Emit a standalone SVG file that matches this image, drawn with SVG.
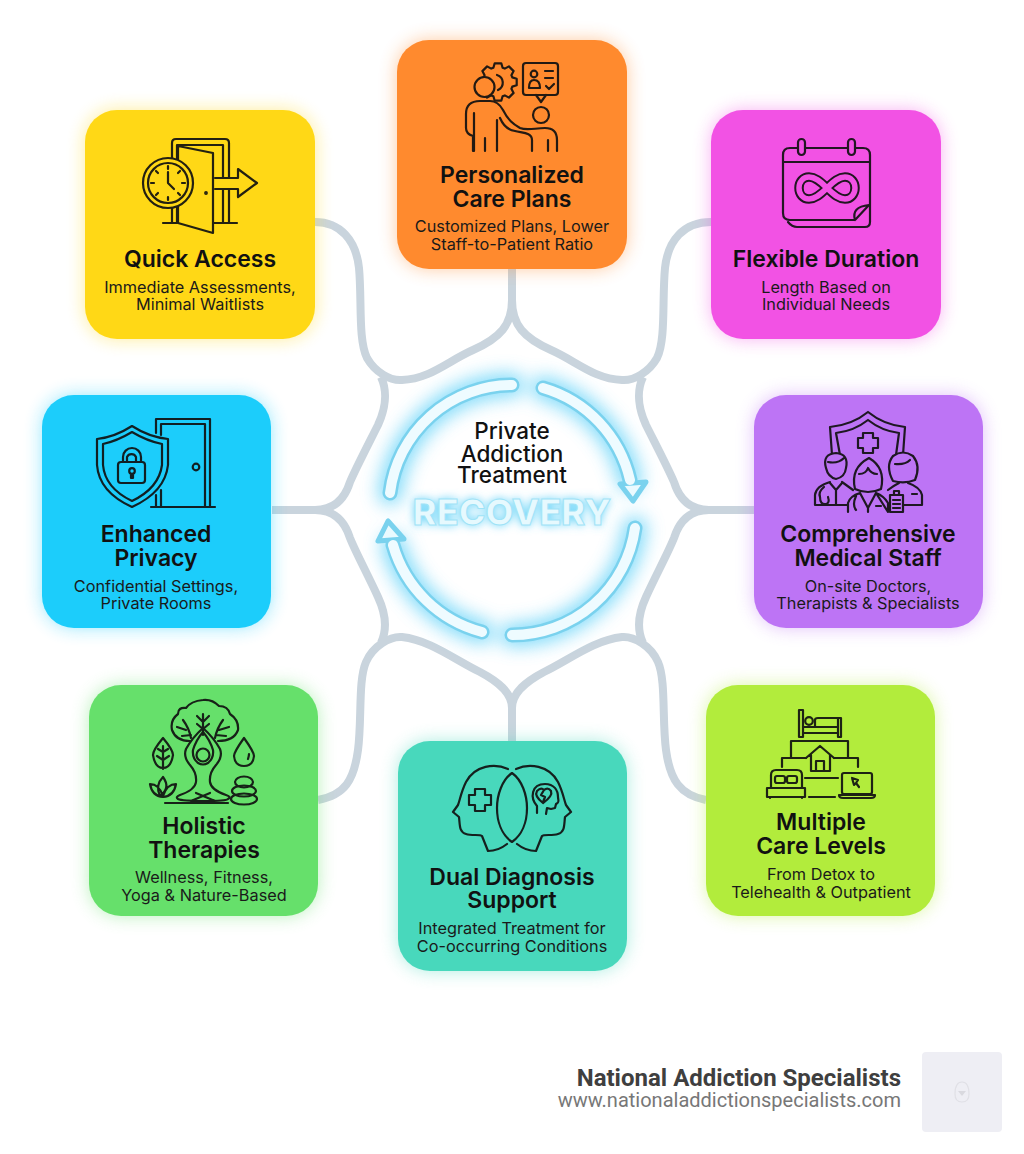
<svg xmlns="http://www.w3.org/2000/svg" width="1024" height="1154" viewBox="0 0 1024 1154">
<style>
text{font-family:"Inter","Liberation Sans",sans-serif;text-anchor:middle;fill:#111}
.t{font-size:23px;font-weight:600}
.s{font-size:16.3px;font-weight:400;fill:#1a1a1a}
.i{fill:none;stroke:#111;stroke-width:2.2;stroke-linecap:round;stroke-linejoin:round;opacity:.92}
.c{fill:none;stroke:#c9d4dd;stroke-width:8;stroke-linecap:butt;stroke-linejoin:round}
.g{filter:url(#glow);opacity:.45}
.ring{fill:none;stroke-linecap:round;stroke-linejoin:round}
.f{font-family:"Roboto","Liberation Sans",sans-serif;text-anchor:end}
</style>
<defs>
<filter id="glow" x="-30%" y="-30%" width="160%" height="160%"><feGaussianBlur stdDeviation="9"/></filter>
<filter id="rg" x="-30%" y="-30%" width="160%" height="160%"><feGaussianBlur stdDeviation="9"/></filter>
<filter id="tg" x="-30%" y="-80%" width="160%" height="260%"><feGaussianBlur stdDeviation="5"/></filter>
<path id="arcs" d="M390 493A123 123 0 0 1 512 385M543 388A125 125 0 0 1 630 480M635 528A124 124 0 0 1 512 635M482 632A126 126 0 0 1 393 545"/>
</defs>
<rect width="1024" height="1154" fill="#fff"/>
<g id="connectors" class="c">
<path d="M512 268V300C512 325 500 338 473 350C448 361 430 379 402 380C390 381 375 372 367 358C358 340 362 300 359 268C356 240 340 222 315 222"/>
<path d="M512 300C512 325 524 338 551 350C576 361 594 379 622 380C634 381 649 372 657 358C666 340 662 300 665 268C668 240 684 222 711 222"/>
<path d="M381 377C388 392 385 410 378 425C368 445 356 468 350 482C345 498 335 510 315 510H272"/>
<path d="M643 377C636 392 639 410 646 425C656 445 668 468 674 482C679 498 689 510 709 510H754"/>
<path d="M315 510C335 510 345 522 350 538C356 553 368 575 378 597C385 612 388 628 381 643"/>
<path d="M709 510C689 510 679 522 674 538C668 553 656 575 646 597C639 612 636 628 643 643"/>
<path d="M512 741V708C512 692 497 681 480 672C455 660 430 640 402 637C390 636 373 646 366 662C358 680 362 720 358 750C354 780 345 795 318 800"/>
<path d="M512 708C512 692 527 681 544 672C569 660 594 640 622 637C634 636 651 646 658 662C666 680 662 720 666 750C670 780 680 795 706 800"/>
</g>
<g id="card-quick-access">
<rect class="g" x="85" y="110" width="230" height="229" rx="32" fill="#ffd816"/>
<rect x="85" y="110" width="230" height="229" rx="32" fill="#ffd816"/>
<g class="i">
<path d="M172 223V143Q172 139 176 139H225Q229 139 229 143V177M177 223V145H223V177M229 190V223M223 190V223M163 223H177M213 223H237"/>
<path d="M178 146L213 153V233L178 223Z" fill="#ffd816"/>
<path d="M215 178H238V169L257 183L238 197V189H215"/>
<circle cx="168" cy="183" r="25" fill="#ffd816"/><circle cx="168" cy="183" r="20"/>
<path d="M168 172V183L174 189M168 166V169M168 197V200M151 183H154M182 183H185M156 171L158 173M180 171L178 173M156 195L158 193M180 195L178 193"/>
<circle cx="206" cy="193" r=".8"/>
</g>
<text class="t" x="200" y="267">Quick Access</text>
<text class="s" x="200" y="293">Immediate Assessments,</text>
<text class="s" x="200" y="310">Minimal Waitlists</text>
</g>
<g id="card-personalized">
<rect class="g" x="397" y="40" width="230" height="229" rx="32" fill="#ff8a2e"/>
<rect x="397" y="40" width="230" height="229" rx="32" fill="#ff8a2e"/>
<g class="i">
<path d="M512.3 77.4L516.7 78.7V85.3L512.3 86.6L511.4 88.8L513.6 92.9L508.9 97.6L504.8 95.4L502.6 96.3L501.3 100.7H494.7L493.4 96.3L491.2 95.4L487.1 97.6L482.4 92.9L484.6 88.8L483.7 86.6L479.3 85.3V78.7L483.7 77.4L484.6 75.2L482.4 71.1L487.1 66.4L491.2 68.6L493.4 67.7L494.7 63.3H501.3L502.6 67.7L504.8 68.6L508.9 66.4L513.6 71.1L511.4 75.2Z"/>
<path d="M497 75A8 8 0 0 1 498 90"/>
<circle cx="484.500" cy="87" r="10" fill="#ff8a2e"/>
<path d="M473 151V136Q466 134 466 128V114Q466 101 480 101H490Q498 101 503 110C508 120 513 124 520 128C527 131 535 128 545 128Q557 128 557 140V151M500 118C503 125 508 130 515 131C522 133 532 132 532 140V151M474 113V151M485 138V151M497 120V151M548 140V151" fill="#ff8a2e"/>
<circle cx="541" cy="115" r="8"/>
<rect x="523" y="63" width="35" height="32" rx="3"/>
<path d="M536 95L541 102L546 95M529 88Q529 80 534 80Q540 80 540 88ZM545 71H553M545 78H553M546 86L549 89L554 84"/>
<circle cx="534" cy="74" r="3.3"/>
</g>
<text class="t" x="512" y="183">Personalized</text>
<text class="t" x="512" y="207">Care Plans</text>
<text class="s" x="512" y="232">Customized Plans, Lower</text>
<text class="s" x="512" y="250">Staff-to-Patient Ratio</text>
</g>
<g id="card-flexible">
<rect class="g" x="711" y="110" width="230" height="229" rx="32" fill="#f252e4"/>
<rect x="711" y="110" width="230" height="229" rx="32" fill="#f252e4"/>
<g class="i">
<path d="M855 220H790Q783 220 783 213V155Q783 148 790 148H863Q870 148 870 155V222Q870 227 865 227H797Q792 227 788 222M783 162H870M869 205L855 220Q851 207 869 205Z"/>
<rect x="798" y="139" width="7" height="16" rx="3.500" fill="#f252e4"/><rect x="848" y="139" width="7" height="16" rx="3.500" fill="#f252e4"/>
<path d="M827 188C820 181 815 177 809 177C803 177 799 182 799 188C799 194 803 199 809 199C815 199 820 195 827 188C834 181 839 177 845 177C851 177 855 182 855 188C855 194 851 199 845 199C839 199 834 195 827 188Z" stroke-width="9.500"/>
<path d="M827 188C820 181 815 177 809 177C803 177 799 182 799 188C799 194 803 199 809 199C815 199 820 195 827 188C834 181 839 177 845 177C851 177 855 182 855 188C855 194 851 199 845 199C839 199 834 195 827 188Z" stroke="#f252e4" stroke-width="5.500"/>
</g>
<text class="t" x="826" y="267">Flexible Duration</text>
<text class="s" x="826" y="293">Length Based on</text>
<text class="s" x="826" y="310">Individual Needs</text>
</g>
<g id="card-privacy">
<rect class="g" x="42" y="395" width="229" height="233" rx="32" fill="#1ccdfb"/>
<rect x="42" y="395" width="229" height="233" rx="32" fill="#1ccdfb"/>
<g class="i">
<path d="M156 433V419H210V507M161 435V424H205V507M156 495V507M161 490V507M151 507H215"/>
<circle cx="196" cy="467" r="3.300"/>
<path d="M132 426Q115 437 97 439V465Q99 492 132 507Q165 492 168 465V439Q149 437 132 426Z"/>
<path d="M132 432Q117 441 103 444V465Q105 488 132 501Q159 488 162 465V444Q147 441 132 432Z"/>
<rect x="118" y="462" width="27" height="21" rx="3"/>
<path d="M123 462V457A9 9 0 0 1 141 457V462M127 462V457A5 5 0 0 1 136 457V462M131 475V478H133V475"/>
<circle cx="132" cy="471" r="2.800"/>
</g>
<text class="t" x="156" y="542">Enhanced</text>
<text class="t" x="156" y="566">Privacy</text>
<text class="s" x="156" y="592">Confidential Settings,</text>
<text class="s" x="156" y="609">Private Rooms</text>
</g>
<g id="card-medical">
<rect class="g" x="754" y="395" width="229" height="233" rx="32" fill="#bd74f5"/>
<rect x="754" y="395" width="229" height="233" rx="32" fill="#bd74f5"/>
<g class="i">
<path d="M832 455L830 427Q852 425 868 412Q884 425 905 427L903 455M840 455L836 433Q854 431 868 420Q882 431 899 433L896 455"/>
<path d="M863 433H873V438H878V448H873V453H863V448H858V438H863Z"/>
<path d="M826 468Q822 454 836 453Q849 454 846 468Q845 477 836 479Q828 477 826 468ZM828 462Q838 464 844 458" fill="#bd74f5"/>
<path d="M815 505V495Q816 486 830 482M842 482L853 490M815 505H848M830 483L836 490L842 483M836 490V505M824 487Q818 492 820 497M820 497Q820 505 826 504Q830 503 828 497"/>
<path d="M855 489Q850 468 869 458Q886 468 881 489Q875 492 868 492Q861 492 855 489ZM859 474Q866 474 868 468Q871 474 877 474" fill="#bd74f5"/>
<path d="M848 512V503Q850 496 860 493M876 493Q884 496 888 503V512ZM860 493L868 508L876 493M868 508V512M856 496Q852 505 856 510M876 506H881" fill="#bd74f5"/>
<path d="M893 481Q885 466 893 456Q903 449 913 456Q921 466 915 480Q905 484 893 481ZM895 464Q905 465 910 460" fill="#bd74f5"/>
<path d="M888 490Q893 486 899 483M908 483Q920 487 922 495V505H904M912 494H917"/>
<rect x="890" y="495" width="13" height="17" fill="#bd74f5"/><path d="M893 500H900M893 504H900M893 508H900M894 495V491H899V495"/>
</g>
<text class="t" x="868" y="542">Comprehensive</text>
<text class="t" x="868" y="566">Medical Staff</text>
<text class="s" x="868" y="592">On-site Doctors,</text>
<text class="s" x="868" y="609">Therapists &amp; Specialists</text>
</g>
<g id="card-holistic">
<rect class="g" x="89" y="685" width="229" height="231" rx="32" fill="#66e06b"/>
<rect x="89" y="685" width="229" height="231" rx="32" fill="#66e06b"/>
<g class="i">
<path d="M190 741Q176 741 172 730Q170 720 178 714Q178 707 186 708Q191 701 203 700Q212 699 219 706Q228 706 230 714Q239 720 238 730Q234 741 218 741"/>
<path d="M203 735V714M203 722L197 716M203 722L209 716M203 729L197 724M203 729L209 724M191 738Q189 728 183 720M186 730L177 727M191 735L182 736M215 738Q217 728 223 720M219 730L229 727M216 735L226 736"/>
<path d="M203 728Q192 738 186 749Q183 757 190 765Q197 773 196 782Q195 790 180 795Q175 797 178 799Q182 801 205 801Q226 801 228 799Q232 797 226 795Q211 790 210 782Q209 773 216 765Q223 757 220 749Q214 738 203 728ZM196 793L215 801M210 793L191 801"/>
<path d="M203 732Q196 740 193 750Q192 758 198 763Q203 766 208 763Q214 758 213 750Q210 740 203 732Z"/>
<circle cx="203" cy="755" r="6.500"/>
<path d="M163 738Q153 750 153 755Q155 768 163 768Q171 768 173 755Q173 750 163 738ZM163 746V769M163 752L158 749M163 752L168 749M163 760L157 756M163 760L169 756"/>
<path d="M244 738Q234 752 234 756Q235 766 244 766Q253 766 254 756Q254 752 244 738ZM248 759Q249 756 249 754"/>
<path d="M163 777Q155 785 160 796Q171 788 163 777ZM150 784Q152 796 163 797Q174 796 176 784Q167 784 163 796Q159 784 150 784Z"/>
<ellipse cx="244" cy="782" rx="9" ry="5.500"/><ellipse cx="244" cy="791" rx="12" ry="5.500"/><ellipse cx="244" cy="799" rx="13" ry="5.500"/>
<path d="M165 803H228"/>
</g>
<text class="t" x="204" y="834">Holistic</text>
<text class="t" x="204" y="858">Therapies</text>
<text class="s" x="204" y="883">Wellness, Fitness,</text>
<text class="s" x="204" y="901">Yoga &amp; Nature-Based</text>
</g>
<g id="card-dual">
<rect class="g" x="398" y="741" width="229" height="230" rx="32" fill="#48d8bc"/>
<rect x="398" y="741" width="229" height="230" rx="32" fill="#48d8bc"/>
<g class="i">
<path d="M508 769C495 763 475 765 466 782C461 792 460 800 458 805L453 812L459 817C460 825 459 832 466 834C472 836 480 834 482 836L488 851C495 851 502 848 507 844"/>
<path d="M516 769C529 763 549 765 558 782C563 792 564 800 566 805L571 812L565 817C564 825 565 832 558 834C552 836 544 834 542 836L536 851C529 851 522 848 517 844"/>
<path d="M512 773C502 780 497 795 497 808C497 822 502 835 512 842C522 835 527 822 527 808C527 795 522 780 512 773Z"/>
<path d="M475 789H485V795H491V805H485V811H475V805H469V795H475Z"/>
<path d="M537 813L537 806C530 798 531 784 545 784C554 784 558 790 558 797C558 800 560 802 556 804L555 808L551 809L547 808L546 814"/>
<path d="M543 803Q534 796 537 791Q541 787 544 790Q548 787 551 791Q553 796 543 803ZM544 790L541 795L545 797L543 802"/>
</g>
<text class="t" x="512" y="885">Dual Diagnosis</text>
<text class="t" x="512" y="908">Support</text>
<text class="s" x="512" y="934">Integrated Treatment for</text>
<text class="s" x="512" y="952">Co-occurring Conditions</text>
</g>
<g id="card-levels">
<rect class="g" x="706" y="685" width="229" height="231" rx="32" fill="#b2ec3c"/>
<rect x="706" y="685" width="229" height="231" rx="32" fill="#b2ec3c"/>
<g class="i">
<rect x="799" y="710" width="4" height="27"/><rect x="838" y="718" width="3" height="19"/>
<path d="M803 733H838M803 727H838M815 727V720Q815 718 818 718H838"/>
<circle cx="809" cy="721" r="3.800"/>
<path d="M791 758V741H848V758M782 767V758H806M834 758H858V767"/>
<path d="M806 758L820 746L834 758M811 755V771H830V755M816 771V761H824V771"/>
<path d="M805 778H838M809 797H835"/>
<path d="M771 788V775Q771 770 776 770H797Q802 770 802 775V788M767 788H805V797H767ZM770 797V798M802 797V798"/>
<rect x="775" y="776" width="10" height="7" rx="2"/><rect x="787" y="776" width="10" height="7" rx="2"/>
<rect x="842" y="773" width="30" height="21" rx="2"/>
<path d="M839 795H875Q875 798 871 798H843Q839 798 839 795ZM852 778L854 785L856 783L859 787M852 778L858 780L856 783"/>
</g>
<text class="t" x="821" y="830">Multiple</text>
<text class="t" x="821" y="854">Care Levels</text>
<text class="s" x="821" y="880">From Detox to</text>
<text class="s" x="821" y="898">Telehealth &amp; Outpatient</text>
</g>
<g id="center">
<g class="ring" filter="url(#rg)" opacity=".7">
<use href="#arcs" stroke="#4fcdf8" stroke-width="24"/>
</g>
<g id="recovery-arrows">
<use href="#arcs" class="ring" stroke="#7ad2ee" stroke-width="15"/>
<path d="M620 484L646 482L633 501Z" fill="#eafaff" stroke="#7ad2ee" stroke-width="5" stroke-linejoin="round"/>
<path d="M378 541L404 539L388 521Z" fill="#eafaff" stroke="#7ad2ee" stroke-width="5" stroke-linejoin="round"/>
<use href="#arcs" class="ring" stroke="#eefbff" stroke-width="10"/>
</g>
<text x="512" y="525" font-size="36" font-weight="800" style="fill:#4fcdf8" filter="url(#tg)">RECOVERY</text>
<text x="512" y="525" font-size="36" font-weight="800" style="fill:#e6f9fe;stroke:#9fe3f7;stroke-width:1">RECOVERY</text>
<text x="512" y="439" font-size="22.500" font-weight="500">Private</text>
<text x="512" y="462" font-size="22.500" font-weight="500">Addiction</text>
<text x="512" y="483" font-size="22.500" font-weight="500">Treatment</text>
</g>
<g id="footer">
<text class="f" x="901" y="1086" font-size="24" font-weight="700" style="fill:#3f3f3f">National Addiction Specialists</text>
<text class="f" x="901" y="1107" font-size="20" style="fill:#777">www.nationaladdictionspecialists.com</text>
<rect x="922" y="1052" width="80" height="80" rx="4" fill="#eeeef4"/>
<path d="M962 1082Q955 1082 955 1094Q955 1102 962 1102Q969 1102 969 1094Q969 1082 962 1082Z" fill="none" stroke="#e0e0e6" stroke-width="1.200"/>
<path d="M958 1091H966L962 1096Z" fill="#d9d9df"/>
</g>
</svg>
